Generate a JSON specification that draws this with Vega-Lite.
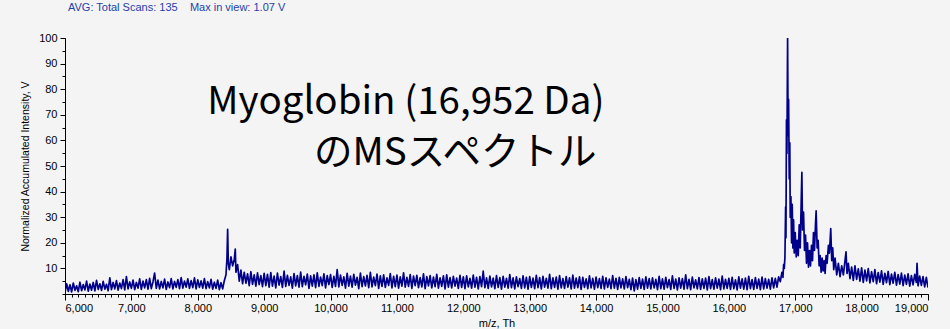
{
  "$schema": "https://vega.github.io/schema/vega-lite/v6.json",
  "autosize": {"type": "none"},
  "width": 863,
  "height": 256,
  "padding": {"left": 65, "top": 38, "right": 22, "bottom": 35},
  "background": "#f4f4f4",
  "title": {
    "text": "AVG: Total Scans: 135\u00a0\u00a0\u00a0 Max in view: 1.07 V",
    "anchor": "start",
    "frame": "group",
    "dx": 3,
    "offset": 19,
    "font": "Liberation Sans",
    "fontSize": 11,
    "fontWeight": "normal",
    "color": "#1f3fae"
  },
  "config": {
    "view": {"stroke": null},
    "axis": {
      "grid": false,
      "domainColor": "#000000",
      "tickColor": "#000000",
      "labelColor": "#000000",
      "titleColor": "#000000",
      "labelFont": "Liberation Sans",
      "titleFont": "Liberation Sans",
      "labelFontSize": 11,
      "titleFontWeight": "normal"
    }
  },
  "resolve": {"axis": {"x": "independent", "y": "independent"}},
  "layer": [
    {
      "data": {
        "values": [
          {"mz":6000,"v":0.5},{"mz":6025,"v":4.0},{"mz":6050,"v":1.0},{"mz":6075,"v":3.6},{"mz":6100,"v":0.8},{"mz":6125,"v":4.3},{"mz":6150,"v":1.4},{"mz":6175,"v":3.2},{"mz":6200,"v":0.9},{"mz":6225,"v":4.6},
          {"mz":6250,"v":1.3},{"mz":6275,"v":3.7},{"mz":6300,"v":1.6},{"mz":6325,"v":5.0},{"mz":6350,"v":1.1},{"mz":6375,"v":3.9},{"mz":6400,"v":1.5},{"mz":6425,"v":4.5},{"mz":6450,"v":1.2},{"mz":6475,"v":5.3},
          {"mz":6500,"v":1.8},{"mz":6525,"v":4.0},{"mz":6550,"v":1.4},{"mz":6575,"v":4.9},{"mz":6600,"v":1.9},{"mz":6625,"v":3.8},{"mz":6650,"v":1.3},{"mz":6675,"v":6.3},{"mz":6700,"v":1.7},{"mz":6725,"v":4.5},
          {"mz":6750,"v":2.0},{"mz":6775,"v":5.2},{"mz":6800,"v":1.5},{"mz":6825,"v":4.3},{"mz":6850,"v":2.1},{"mz":6875,"v":5.6},{"mz":6900,"v":1.6},{"mz":6925,"v":6.8},{"mz":6950,"v":2.0},{"mz":6975,"v":4.7},
          {"mz":7000,"v":2.2},{"mz":7025,"v":5.4},{"mz":7050,"v":1.7},{"mz":7075,"v":4.5},{"mz":7100,"v":2.3},{"mz":7125,"v":5.9},{"mz":7150,"v":1.8},{"mz":7175,"v":5.0},{"mz":7200,"v":2.4},{"mz":7225,"v":5.6},
          {"mz":7250,"v":1.9},{"mz":7275,"v":6.1},{"mz":7300,"v":2.1},{"mz":7325,"v":4.7},{"mz":7350,"v":8.2},{"mz":7375,"v":2.2},{"mz":7400,"v":5.4},{"mz":7425,"v":2.0},{"mz":7450,"v":4.9},{"mz":7475,"v":2.4},
          {"mz":7500,"v":5.8},{"mz":7525,"v":1.8},{"mz":7550,"v":4.7},{"mz":7575,"v":2.5},{"mz":7600,"v":6.0},{"mz":7625,"v":2.0},{"mz":7650,"v":4.9},{"mz":7675,"v":2.6},{"mz":7700,"v":5.6},{"mz":7725,"v":2.1},
          {"mz":7750,"v":6.4},{"mz":7775,"v":2.3},{"mz":7800,"v":5.0},{"mz":7825,"v":2.7},{"mz":7850,"v":5.9},{"mz":7875,"v":2.2},{"mz":7900,"v":5.2},{"mz":7925,"v":2.5},{"mz":7950,"v":6.3},{"mz":7975,"v":2.0},
          {"mz":8000,"v":5.5},{"mz":8025,"v":2.6},{"mz":8050,"v":5.1},{"mz":8075,"v":2.3},{"mz":8100,"v":6.0},{"mz":8125,"v":2.1},{"mz":8150,"v":4.8},{"mz":8175,"v":2.4},{"mz":8200,"v":5.7},{"mz":8225,"v":1.9},
          {"mz":8250,"v":4.6},{"mz":8275,"v":2.2},{"mz":8300,"v":5.4},{"mz":8325,"v":1.7},{"mz":8350,"v":4.4},{"mz":8375,"v":2.0},{"mz":8400,"v":5.2},{"mz":8425,"v":7.5},{"mz":8440,"v":14},{"mz":8450,"v":25.3},
          {"mz":8460,"v":12},{"mz":8475,"v":9.5},{"mz":8500,"v":14.5},{"mz":8525,"v":11},{"mz":8550,"v":13.5},{"mz":8565,"v":17.5},{"mz":8575,"v":8.5},{"mz":8600,"v":11.5},{"mz":8625,"v":5.0},{"mz":8650,"v":9.3},
          {"mz":8675,"v":4.0},{"mz":8700,"v":8.5},{"mz":8725,"v":4.2},{"mz":8750,"v":7.9},{"mz":8775,"v":3.3},{"mz":8800,"v":8.7},{"mz":8825,"v":3.8},{"mz":8850,"v":7.5},{"mz":8875,"v":3.1},{"mz":8900,"v":8.3},
          {"mz":8925,"v":3.7},{"mz":8950,"v":7.2},{"mz":8975,"v":2.9},{"mz":9000,"v":8.1},{"mz":9025,"v":3.3},{"mz":9050,"v":7.7},{"mz":9075,"v":2.7},{"mz":9100,"v":8.4},{"mz":9125,"v":3.1},{"mz":9150,"v":7.0},
          {"mz":9175,"v":2.4},{"mz":9200,"v":8.2},{"mz":9225,"v":3.5},{"mz":9250,"v":6.8},{"mz":9275,"v":2.6},{"mz":9300,"v":8.9},{"mz":9325,"v":3.0},{"mz":9350,"v":7.3},{"mz":9375,"v":3.4},{"mz":9400,"v":6.7},
          {"mz":9425,"v":2.3},{"mz":9450,"v":8.0},{"mz":9475,"v":3.2},{"mz":9500,"v":7.2},{"mz":9525,"v":2.7},{"mz":9550,"v":8.6},{"mz":9575,"v":2.9},{"mz":9600,"v":6.9},{"mz":9625,"v":3.6},{"mz":9650,"v":7.8},
          {"mz":9675,"v":2.2},{"mz":9700,"v":7.1},{"mz":9725,"v":3.1},{"mz":9750,"v":7.5},{"mz":9775,"v":2.5},{"mz":9800,"v":8.3},{"mz":9825,"v":3.0},{"mz":9850,"v":6.6},{"mz":9875,"v":3.3},{"mz":9900,"v":7.9},
          {"mz":9925,"v":2.4},{"mz":9950,"v":7.2},{"mz":9975,"v":3.7},{"mz":10000,"v":7.6},{"mz":10025,"v":2.6},{"mz":10050,"v":6.9},{"mz":10075,"v":3.0},{"mz":10100,"v":9.5},{"mz":10125,"v":2.8},{"mz":10150,"v":7.4},
          {"mz":10175,"v":3.4},{"mz":10200,"v":6.7},{"mz":10225,"v":2.3},{"mz":10250,"v":8.1},{"mz":10275,"v":3.1},{"mz":10300,"v":7.0},{"mz":10325,"v":2.7},{"mz":10350,"v":7.7},{"mz":10375,"v":3.5},{"mz":10400,"v":6.5},
          {"mz":10425,"v":2.1},{"mz":10450,"v":8.2},{"mz":10475,"v":2.9},{"mz":10500,"v":6.8},{"mz":10525,"v":3.2},{"mz":10550,"v":7.3},{"mz":10575,"v":2.5},{"mz":10600,"v":8.5},{"mz":10625,"v":2.8},{"mz":10650,"v":6.6},
          {"mz":10675,"v":3.3},{"mz":10700,"v":7.8},{"mz":10725,"v":2.2},{"mz":10750,"v":7.1},{"mz":10775,"v":3.0},{"mz":10800,"v":7.5},{"mz":10825,"v":2.6},{"mz":10850,"v":6.3},{"mz":10875,"v":3.4},{"mz":10900,"v":8.0},
          {"mz":10925,"v":2.4},{"mz":10950,"v":6.9},{"mz":10975,"v":2.9},{"mz":11000,"v":7.4},{"mz":11025,"v":2.3},{"mz":11050,"v":6.7},{"mz":11075,"v":3.1},{"mz":11100,"v":8.3},{"mz":11125,"v":2.7},{"mz":11150,"v":6.5},
          {"mz":11175,"v":3.0},{"mz":11200,"v":7.6},{"mz":11225,"v":2.2},{"mz":11250,"v":7.0},{"mz":11275,"v":3.3},{"mz":11300,"v":7.3},{"mz":11325,"v":2.5},{"mz":11350,"v":6.4},{"mz":11375,"v":2.8},{"mz":11400,"v":7.9},
          {"mz":11425,"v":2.1},{"mz":11450,"v":6.8},{"mz":11475,"v":3.2},{"mz":11500,"v":7.2},{"mz":11525,"v":2.4},{"mz":11550,"v":6.6},{"mz":11575,"v":2.9},{"mz":11600,"v":7.7},{"mz":11625,"v":2.3},{"mz":11650,"v":6.3},
          {"mz":11675,"v":3.0},{"mz":11700,"v":7.1},{"mz":11725,"v":2.0},{"mz":11750,"v":7.5},{"mz":11775,"v":2.7},{"mz":11800,"v":6.4},{"mz":11825,"v":2.4},{"mz":11850,"v":6.9},{"mz":11875,"v":3.1},{"mz":11900,"v":6.2},
          {"mz":11925,"v":2.2},{"mz":11950,"v":7.3},{"mz":11975,"v":2.6},{"mz":12000,"v":6.7},{"mz":12025,"v":2.1},{"mz":12050,"v":7.1},{"mz":12075,"v":2.8},{"mz":12100,"v":6.1},{"mz":12125,"v":2.3},{"mz":12150,"v":7.4},
          {"mz":12175,"v":2.7},{"mz":12200,"v":6.5},{"mz":12225,"v":2.0},{"mz":12250,"v":6.8},{"mz":12275,"v":2.9},{"mz":12300,"v":8.9},{"mz":12325,"v":2.5},{"mz":12350,"v":6.3},{"mz":12375,"v":2.2},{"mz":12400,"v":7.0},
          {"mz":12425,"v":2.8},{"mz":12450,"v":6.2},{"mz":12475,"v":2.1},{"mz":12500,"v":7.2},{"mz":12525,"v":2.6},{"mz":12550,"v":6.4},{"mz":12575,"v":1.9},{"mz":12600,"v":6.9},{"mz":12625,"v":2.7},{"mz":12650,"v":6.1},
          {"mz":12675,"v":2.3},{"mz":12700,"v":7.6},{"mz":12725,"v":2.5},{"mz":12750,"v":6.3},{"mz":12775,"v":2.0},{"mz":12800,"v":6.7},{"mz":12825,"v":2.9},{"mz":12850,"v":6.0},{"mz":12875,"v":2.2},{"mz":12900,"v":7.1},
          {"mz":12925,"v":2.4},{"mz":12950,"v":6.5},{"mz":12975,"v":1.9},{"mz":13000,"v":6.8},{"mz":13025,"v":2.6},{"mz":13050,"v":6.2},{"mz":13075,"v":2.1},{"mz":13100,"v":7.3},{"mz":13125,"v":2.5},{"mz":13150,"v":6.4},
          {"mz":13175,"v":2.0},{"mz":13200,"v":6.9},{"mz":13225,"v":2.7},{"mz":13250,"v":6.1},{"mz":13275,"v":2.3},{"mz":13300,"v":7.7},{"mz":13325,"v":2.1},{"mz":13350,"v":6.3},{"mz":13375,"v":2.6},{"mz":13400,"v":6.6},
          {"mz":13425,"v":1.9},{"mz":13450,"v":7.2},{"mz":13475,"v":2.4},{"mz":13500,"v":6.0},{"mz":13525,"v":2.2},{"mz":13550,"v":6.8},{"mz":13575,"v":2.7},{"mz":13600,"v":6.3},{"mz":13625,"v":2.0},{"mz":13650,"v":7.4},
          {"mz":13675,"v":2.3},{"mz":13700,"v":6.2},{"mz":13725,"v":2.5},{"mz":13750,"v":6.7},{"mz":13775,"v":1.8},{"mz":13800,"v":6.5},{"mz":13825,"v":2.6},{"mz":13850,"v":5.9},{"mz":13875,"v":2.1},{"mz":13900,"v":7.1},
          {"mz":13925,"v":2.4},{"mz":13950,"v":6.1},{"mz":13975,"v":1.9},{"mz":14000,"v":6.6},{"mz":14025,"v":2.5},{"mz":14050,"v":6.0},{"mz":14075,"v":2.2},{"mz":14100,"v":6.9},{"mz":14125,"v":2.0},{"mz":14150,"v":6.3},
          {"mz":14175,"v":2.6},{"mz":14200,"v":5.8},{"mz":14225,"v":2.1},{"mz":14250,"v":7.2},{"mz":14275,"v":2.3},{"mz":14300,"v":6.1},{"mz":14325,"v":1.8},{"mz":14350,"v":6.5},{"mz":14375,"v":2.4},{"mz":14400,"v":5.9},
          {"mz":14425,"v":2.0},{"mz":14450,"v":6.8},{"mz":14475,"v":2.5},{"mz":14500,"v":5.7},{"mz":14525,"v":1.7},{"mz":14550,"v":6.2},{"mz":14575,"v":1.2},{"mz":14600,"v":5.6},{"mz":14625,"v":1.9},{"mz":14650,"v":6.4},
          {"mz":14675,"v":2.2},{"mz":14700,"v":5.8},{"mz":14725,"v":1.8},{"mz":14750,"v":6.7},{"mz":14775,"v":2.3},{"mz":14800,"v":6.0},{"mz":14825,"v":2.0},{"mz":14850,"v":6.3},{"mz":14875,"v":2.4},{"mz":14900,"v":5.7},
          {"mz":14925,"v":1.7},{"mz":14950,"v":6.9},{"mz":14975,"v":2.1},{"mz":15000,"v":5.9},{"mz":15025,"v":1.9},{"mz":15050,"v":6.5},{"mz":15075,"v":2.5},{"mz":15100,"v":5.6},{"mz":15125,"v":1.8},{"mz":15150,"v":7.1},
          {"mz":15175,"v":2.2},{"mz":15200,"v":5.8},{"mz":15225,"v":1.6},{"mz":15250,"v":6.3},{"mz":15275,"v":2.3},{"mz":15300,"v":6.0},{"mz":15325,"v":1.9},{"mz":15350,"v":7.5},{"mz":15375,"v":2.1},{"mz":15400,"v":5.7},
          {"mz":15425,"v":1.7},{"mz":15450,"v":6.6},{"mz":15475,"v":2.4},{"mz":15500,"v":5.5},{"mz":15525,"v":2.0},{"mz":15550,"v":6.4},{"mz":15575,"v":1.8},{"mz":15600,"v":5.9},{"mz":15625,"v":2.2},{"mz":15650,"v":6.2},
          {"mz":15675,"v":1.6},{"mz":15700,"v":6.8},{"mz":15725,"v":2.1},{"mz":15750,"v":5.6},{"mz":15775,"v":1.9},{"mz":15800,"v":6.3},{"mz":15825,"v":2.3},{"mz":15850,"v":5.8},{"mz":15875,"v":1.7},{"mz":15900,"v":7.0},
          {"mz":15925,"v":2.0},{"mz":15950,"v":5.7},{"mz":15975,"v":2.2},{"mz":16000,"v":6.1},{"mz":16025,"v":1.8},{"mz":16050,"v":6.5},{"mz":16075,"v":2.1},{"mz":16100,"v":5.5},{"mz":16125,"v":1.6},{"mz":16150,"v":6.7},
          {"mz":16175,"v":2.3},{"mz":16200,"v":5.9},{"mz":16225,"v":1.9},{"mz":16250,"v":6.2},{"mz":16275,"v":1.7},{"mz":16300,"v":6.9},{"mz":16325,"v":2.1},{"mz":16350,"v":5.6},{"mz":16375,"v":1.8},{"mz":16400,"v":6.4},
          {"mz":16425,"v":2.2},{"mz":16450,"v":5.8},{"mz":16475,"v":1.7},{"mz":16500,"v":6.6},{"mz":16525,"v":2.0},{"mz":16550,"v":6.0},{"mz":16575,"v":2.3},{"mz":16600,"v":5.7},{"mz":16625,"v":1.9},{"mz":16650,"v":6.3},
          {"mz":16675,"v":2.4},{"mz":16700,"v":6.1},{"mz":16725,"v":2.7},{"mz":16750,"v":6.7},{"mz":16775,"v":4.8},{"mz":16800,"v":8.5},{"mz":16815,"v":6.5},{"mz":16825,"v":11.5},{"mz":16835,"v":10},{"mz":16845,"v":14.5},
          {"mz":16855,"v":34},{"mz":16860,"v":22},{"mz":16868,"v":68},{"mz":16875,"v":55},{"mz":16885,"v":100},{"mz":16893,"v":62},{"mz":16900,"v":76},{"mz":16910,"v":45},{"mz":16918,"v":59},{"mz":16925,"v":30},
          {"mz":16935,"v":38},{"mz":16945,"v":20},{"mz":16955,"v":35},{"mz":16965,"v":18},{"mz":16975,"v":29},{"mz":16985,"v":16},{"mz":17000,"v":24},{"mz":17015,"v":14.5},{"mz":17030,"v":21},{"mz":17045,"v":15},
          {"mz":17060,"v":27},{"mz":17075,"v":18},{"mz":17090,"v":36},{"mz":17100,"v":47.5},{"mz":17110,"v":25},{"mz":17125,"v":32},{"mz":17140,"v":17},{"mz":17155,"v":23},{"mz":17170,"v":12},{"mz":17185,"v":20},
          {"mz":17200,"v":10.5},{"mz":17215,"v":17},{"mz":17230,"v":11},{"mz":17245,"v":19},{"mz":17260,"v":13},{"mz":17275,"v":24},{"mz":17290,"v":17},{"mz":17305,"v":27},{"mz":17315,"v":32.5},{"mz":17330,"v":18},
          {"mz":17345,"v":21},{"mz":17360,"v":11},{"mz":17375,"v":15},{"mz":17390,"v":8.5},{"mz":17405,"v":14},{"mz":17420,"v":9},{"mz":17435,"v":13},{"mz":17450,"v":8},{"mz":17465,"v":15},{"mz":17480,"v":12},
          {"mz":17500,"v":19},{"mz":17515,"v":16},{"mz":17535,"v":25.5},{"mz":17550,"v":13},{"mz":17565,"v":18},{"mz":17580,"v":9.5},{"mz":17600,"v":14},{"mz":17625,"v":7.5},{"mz":17650,"v":12},{"mz":17675,"v":6.8},
          {"mz":17700,"v":11},{"mz":17725,"v":7.5},{"mz":17750,"v":13},{"mz":17765,"v":16.5},{"mz":17780,"v":8},{"mz":17800,"v":12},{"mz":17825,"v":6.0},{"mz":17850,"v":10.5},{"mz":17875,"v":5.3},{"mz":17900,"v":11},
          {"mz":17925,"v":5.7},{"mz":17950,"v":9.8},{"mz":17975,"v":5.0},{"mz":18000,"v":10.2},{"mz":18025,"v":4.5},{"mz":18050,"v":9.3},{"mz":18075,"v":5.1},{"mz":18100,"v":9.9},{"mz":18125,"v":4.3},{"mz":18150,"v":8.7},
          {"mz":18175,"v":4.8},{"mz":18200,"v":9.5},{"mz":18225,"v":4.0},{"mz":18250,"v":8.4},{"mz":18275,"v":4.6},{"mz":18300,"v":9.0},{"mz":18325,"v":3.8},{"mz":18350,"v":8.1},{"mz":18375,"v":4.4},{"mz":18400,"v":8.8},
          {"mz":18425,"v":3.7},{"mz":18450,"v":7.8},{"mz":18475,"v":4.2},{"mz":18500,"v":8.5},{"mz":18525,"v":3.5},{"mz":18550,"v":7.6},{"mz":18575,"v":3.9},{"mz":18600,"v":8.2},{"mz":18625,"v":3.3},{"mz":18650,"v":7.4},
          {"mz":18675,"v":3.8},{"mz":18700,"v":7.9},{"mz":18725,"v":3.1},{"mz":18750,"v":7.2},{"mz":18775,"v":3.6},{"mz":18800,"v":7.7},{"mz":18825,"v":4.5},{"mz":18835,"v":12},{"mz":18850,"v":3.2},{"mz":18875,"v":7.0},
          {"mz":18900,"v":3.4},{"mz":18925,"v":6.8},{"mz":18950,"v":2.8},{"mz":18975,"v":6.5},{"mz":19000,"v":2.5}
        ]
      },
      "mark": {"type": "line", "color": "#00008b", "strokeWidth": 1.7, "strokeJoin": "round", "clip": true},
      "encoding": {
        "x": {
          "field": "mz",
          "type": "quantitative",
          "scale": {"domain": [6000, 19000], "nice": false, "zero": false},
          "axis": {
            "orient": "bottom",
            "values": [6000, 7000, 8000, 9000, 10000, 11000, 12000, 13000, 14000, 15000, 16000, 17000, 18000, 19000],
            "format": ",.0f",
            "tickSize": 6,
            "labelPadding": 2,
            "title": "m/z, Th",
            "titleFontSize": 11,
            "titlePadding": 4
          }
        },
        "y": {
          "field": "v",
          "type": "quantitative",
          "scale": {"domain": [0, 100], "nice": false},
          "axis": {
            "orient": "left",
            "values": [10, 20, 30, 40, 50, 60, 70, 80, 90, 100],
            "format": ".0f",
            "tickSize": 5,
            "labelPadding": 3,
            "title": "Normalized Accumulated Intensity, V",
            "titleFontSize": 10.5,
            "titlePadding": 8
          }
        }
      }
    },
    {
      "data": {
        "values": [
          {"mz": 11135, "v": 70.5, "label": "Myoglobin (16,952 Da)"},
          {"mz": 11880, "v": 50.3, "label": "のMSスペクトル"}
        ]
      },
      "mark": {
        "type": "text",
        "font": "Noto Sans CJK JP",
        "fontSize": 38.5,
        "color": "#000000",
        "align": "center",
        "baseline": "alphabetic"
      },
      "encoding": {
        "text": {"field": "label"},
        "x": {
          "field": "mz",
          "type": "quantitative",
          "axis": {"orient": "bottom", "tickCount": 130, "tickSize": 3, "labels": false, "domain": false, "title": null}
        },
        "y": {
          "field": "v",
          "type": "quantitative",
          "axis": {"orient": "left", "tickCount": 20, "tickSize": 3, "labels": false, "domain": false, "title": null}
        }
      }
    }
  ]
}
